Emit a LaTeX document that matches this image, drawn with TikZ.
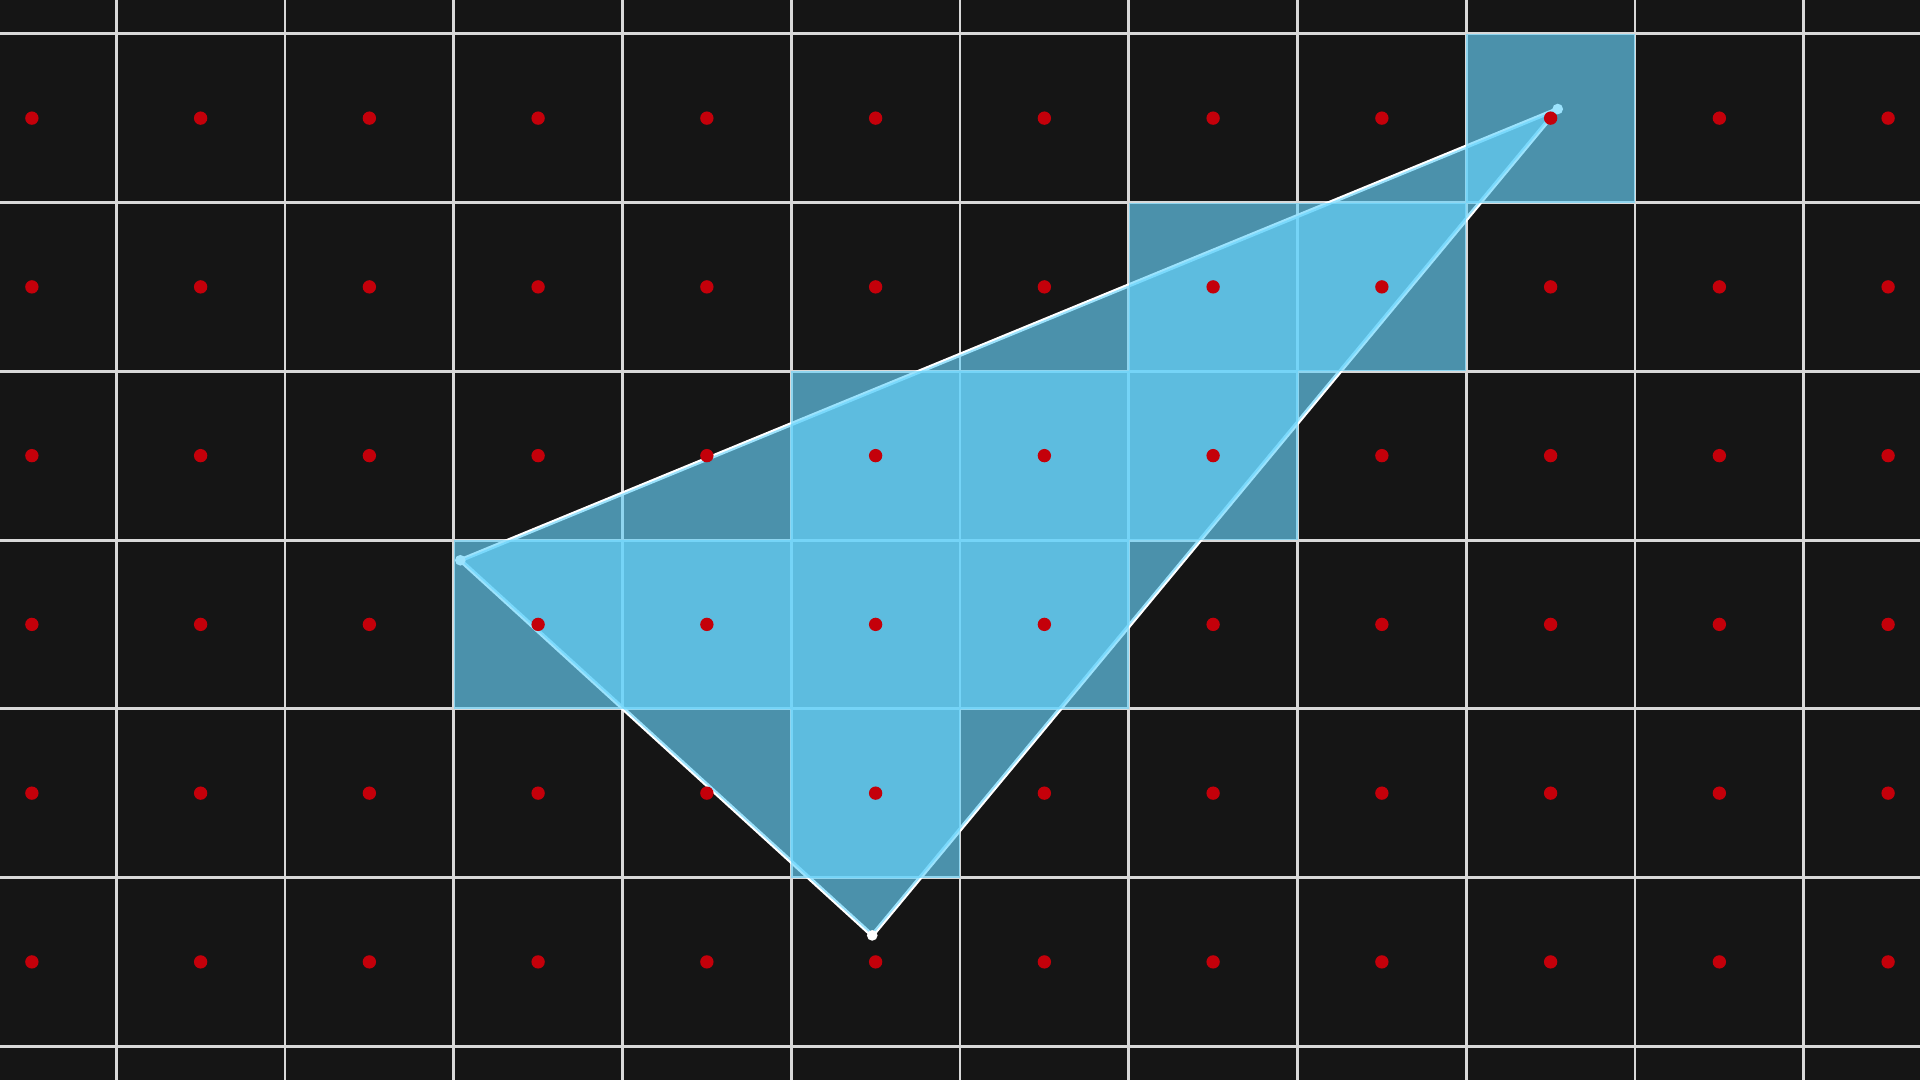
\documentclass[tikz,border=0pt]{standalone}
\usepackage{tikz}
\usetikzlibrary{positioning}

\definecolor{bgdark}{RGB}{21,21,21}
\definecolor{gridgray}{RGB}{216,216,216}
\definecolor{skyfill}{RGB}{104,212,252}
\definecolor{sampred}{RGB}{196,0,10}

\begin{document}
\begin{tikzpicture}[
		gridline/.style={draw=gridgray, line width=0.5pt},
		cellfill/.style={fill=skyfill, fill opacity=0.65},
		sample/.style={circle, fill=sampred, inner sep=0pt, minimum size=2.25pt},
		corner/.style={circle, fill=white, inner sep=0pt, minimum size=1.8pt}
	]
	% Frame
	\useasboundingbox (-5.6889,-3.2) rectangle (5.6889,3.2);
	\fill[bgdark] (-5.6889,-3.2) rectangle (5.6889,3.2);
	
	% Pixel Grid
	\draw[gridline] (-5.6889,-3.2) grid (5.6889,3.2);
	
	% Triangle
	\coordinate (A) at (-2.961,-0.120);
	\coordinate (B) at (3.542,2.554);
	\coordinate (C) at (-0.520,-2.343);
	\draw[white, line width=0.7pt, line join=round] (A) -- (B) -- (C) -- cycle;
	\fill[cellfill] (A) -- (B) -- (C) -- cycle;
	\node[corner] (va) at (A) {};
	\node[corner] (vb) at (B) {};
	\node[corner] (vc) at (C) {};
	
	% Covered Pixels
	\foreach \x/\y in {3/2, 1/1, 2/1, -1/0, 0/0, 1/0, -3/-1, -2/-1, -1/-1, 0/-1, -1/-2} {
		\fill[cellfill] (\x,\y) rectangle ++(1,1);
	}
	
	% Sample Points
	\foreach \i in {0,...,11} {
		\foreach \j in {0,...,5} {
			\node[sample] (s\i-\j) at (\i-5.5, \j-2.5) {};
		}
	}
\end{tikzpicture}
\end{document}
